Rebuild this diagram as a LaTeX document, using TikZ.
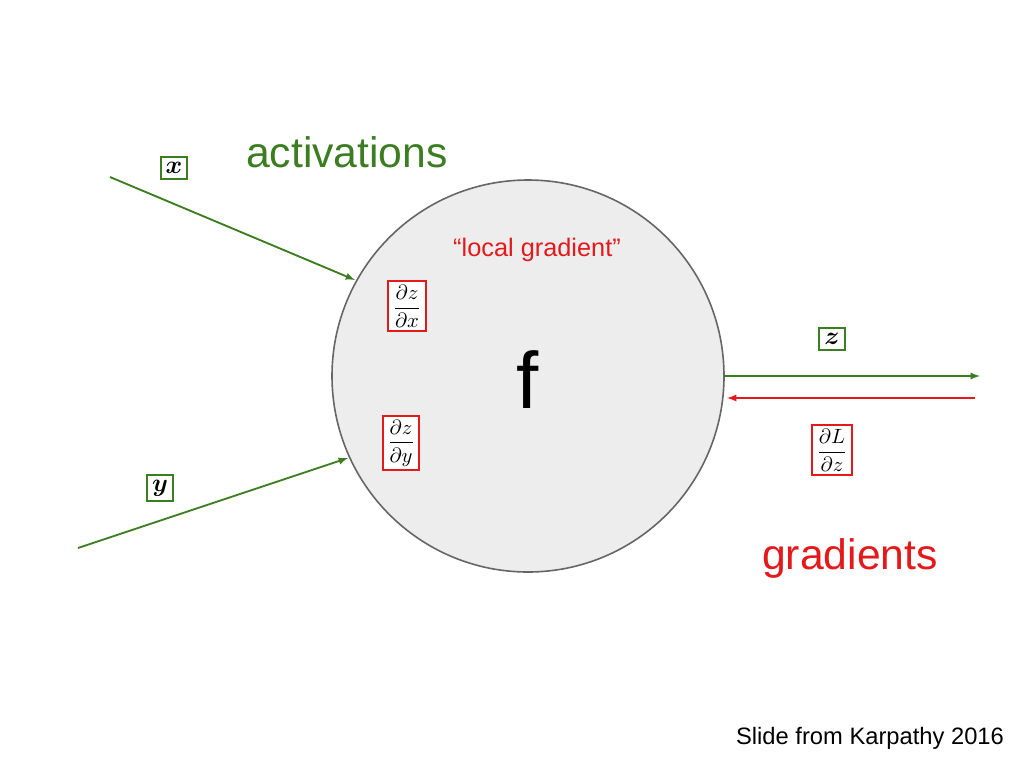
\documentclass[tikz,border=0pt]{standalone}
\usepackage{amsmath}
\usepackage{fontspec}
\setmainfont{Liberation Sans}
\definecolor{gr}{HTML}{3C7D22}
\definecolor{rd}{HTML}{E3191B}
\begin{document}
\begin{tikzpicture}[x=0.75pt,y=-0.75pt,
  gbox/.style={draw=gr,line width=1.5pt,fill=white,inner sep=2pt,scale=1.9},
  rbox/.style={draw=rd,line width=1.5pt,fill=white,inner sep=2pt,scale=1.55},
  garrow/.style={draw=gr,line width=1.4pt,-latex},
  rarrow/.style={draw=rd,line width=1.4pt,-latex}]
\useasboundingbox (0,0) rectangle (1024,768);
\node[circle,draw=black!60,fill=black!7,line width=1.2pt,minimum size=392*0.75pt,inner sep=0] (f) at (528,376) {};
\node (fl) at (528,380) {\fontsize{60}{64}\selectfont f};
\coordinate (xs) at (110,177); \coordinate (xe) at (355,280);
\coordinate (ys) at (78,548); \coordinate (ye) at (348,458);
\coordinate (zs) at (724,376); \coordinate (ze) at (980,376);
\coordinate (gs) at (975,398); \coordinate (ge) at (727,398);
\draw[garrow] (xs) -- (xe);
\draw[garrow] (ys) -- (ye);
\draw[garrow] (zs) -- (ze);
\draw[rarrow] (gs) -- (ge);
\node[gbox] (x) at (174,168) {$\boldsymbol{x}$};
\node[gbox] (y) at (160,488) {$\boldsymbol{y}$};
\node[gbox] (z) at (832,339) {$\boldsymbol{z}$};
\node[text=gr] (act) at (347,152) {\fontsize{32}{36}\selectfont activations};
\node[text=rd] (grad) at (850,558) {\fontsize{32}{36}\selectfont gradients};
\node[text=rd] (loc) at (537,250) {\fontsize{19}{22}\selectfont “local gradient”};
\node[rbox] (dzdx) at (407,306) {$\displaystyle\frac{\partial z}{\partial x}$};
\node[rbox] (dzdy) at (401,443) {$\displaystyle\frac{\partial z}{\partial y}$};
\node[rbox] (dLdz) at (832,450) {$\displaystyle\frac{\partial L}{\partial z}$};
\node (src) at (870,738) {\fontsize{17.8}{20}\selectfont Slide from Karpathy 2016};
\end{tikzpicture}
\end{document}
